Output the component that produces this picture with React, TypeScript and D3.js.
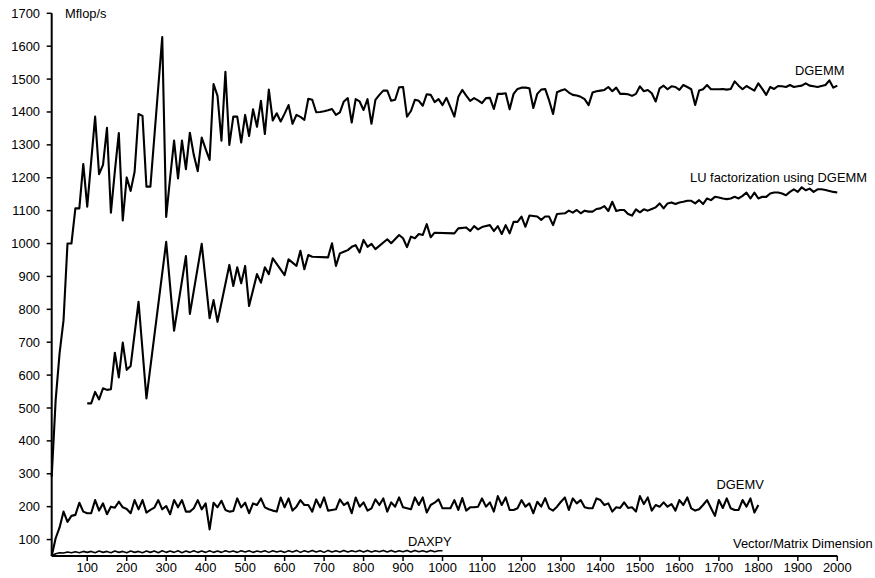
import * as d3 from "d3";

const WIDTH = 875;
const HEIGHT = 578;
const MARGIN = { top: 13.3, right: 37.7, bottom: 22, left: 51.7 };

const X_TICKS = [100, 200, 300, 400, 500, 600, 700, 800, 900, 1000, 1100, 1200, 1300, 1400, 1500, 1600, 1700, 1800, 1900, 2000];
const Y_TICKS = [100, 200, 300, 400, 500, 600, 700, 800, 900, 1000, 1100, 1200, 1300, 1400, 1500, 1600, 1700];

// [dimension, Mflop/s]
const dgemm: [number, number][] = [
  [10, 291], [20, 524], [30, 667], [40, 767], [50, 1000], [60, 1000], [70, 1107], [80, 1107], [90, 1242], [100, 1112],
  [110, 1250], [120, 1386], [130, 1211], [140, 1239], [150, 1352], [160, 1094], [170, 1220], [180, 1336], [190, 1070], [200, 1201],
  [210, 1160], [220, 1218], [230, 1394], [240, 1388], [250, 1173], [260, 1173], [290, 1628], [300, 1081], [310, 1200], [320, 1313],
  [330, 1198], [340, 1313], [350, 1226], [360, 1337], [370, 1269], [380, 1220], [390, 1322], [400, 1287], [410, 1254], [420, 1485],
  [430, 1449], [440, 1313], [450, 1522], [460, 1300], [470, 1386], [480, 1386], [490, 1307], [500, 1391], [510, 1327], [520, 1408],
  [530, 1355], [540, 1434], [550, 1333], [560, 1468], [570, 1374], [580, 1396], [590, 1371], [600, 1395], [610, 1421], [620, 1364],
  [630, 1391], [640, 1385], [650, 1376], [660, 1440], [670, 1437], [680, 1399], [690, 1400], [700, 1402], [710, 1405], [720, 1409],
  [730, 1391], [740, 1399], [750, 1432], [760, 1442], [770, 1368], [780, 1439], [790, 1432], [800, 1406], [810, 1439], [820, 1364],
  [830, 1437], [840, 1452], [850, 1465], [860, 1465], [870, 1434], [880, 1437], [890, 1475], [900, 1476], [910, 1386], [920, 1403],
  [930, 1437], [940, 1434], [950, 1419], [960, 1454], [970, 1452], [980, 1430], [990, 1439], [1000, 1421], [1010, 1443], [1020, 1415],
  [1030, 1386], [1040, 1446], [1050, 1467], [1060, 1450], [1070, 1434], [1080, 1442], [1090, 1435], [1100, 1427], [1110, 1442], [1120, 1443],
  [1130, 1409], [1140, 1455], [1150, 1455], [1160, 1457], [1170, 1408], [1180, 1455], [1190, 1470], [1200, 1474], [1210, 1474], [1220, 1472],
  [1230, 1412], [1240, 1455], [1250, 1468], [1260, 1470], [1270, 1435], [1280, 1394], [1290, 1460], [1300, 1465], [1310, 1469], [1320, 1459],
  [1330, 1452], [1340, 1450], [1350, 1446], [1360, 1439], [1370, 1421], [1380, 1459], [1390, 1463], [1400, 1465], [1410, 1467], [1420, 1476],
  [1430, 1463], [1440, 1474], [1450, 1455], [1460, 1455], [1470, 1454], [1480, 1449], [1490, 1455], [1500, 1478], [1510, 1463], [1520, 1467],
  [1530, 1457], [1540, 1432], [1550, 1472], [1560, 1480], [1570, 1469], [1580, 1478], [1590, 1476], [1600, 1467], [1610, 1482], [1620, 1476],
  [1630, 1469], [1640, 1421], [1650, 1465], [1660, 1469], [1670, 1482], [1680, 1469], [1690, 1469], [1700, 1469], [1710, 1470], [1720, 1468],
  [1730, 1470], [1740, 1493], [1750, 1480], [1760, 1469], [1770, 1479], [1780, 1472], [1790, 1465], [1800, 1487], [1810, 1470], [1820, 1452],
  [1830, 1476], [1840, 1470], [1850, 1479], [1860, 1478], [1870, 1476], [1880, 1482], [1890, 1476], [1900, 1478], [1910, 1480], [1920, 1487],
  [1930, 1480], [1940, 1478], [1950, 1476], [1960, 1479], [1970, 1482], [1980, 1496], [1990, 1474], [2000, 1480],
];

const lu: [number, number][] = [
  [100, 514], [110, 514], [120, 549], [130, 526], [140, 560], [150, 555], [160, 557], [170, 668], [180, 593], [190, 699],
  [200, 616], [210, 628], [230, 823], [250, 529], [300, 1005], [320, 735], [350, 962], [360, 786], [390, 999], [410, 773],
  [420, 828], [430, 762], [460, 935], [470, 871], [480, 928], [490, 879], [500, 932], [510, 810], [530, 907], [540, 881],
  [550, 928], [560, 907], [570, 955], [600, 904], [610, 952], [630, 932], [640, 978], [650, 922], [660, 965], [670, 960],
  [710, 958], [720, 1001], [730, 932], [740, 970], [750, 975], [760, 980], [770, 990], [780, 995], [790, 973], [800, 1011],
  [810, 990], [820, 999], [830, 983], [860, 1013], [870, 1001], [890, 1026], [900, 1016], [910, 989], [920, 1021], [930, 1016],
  [940, 1029], [950, 1026], [960, 1059], [970, 1019], [980, 1033], [1030, 1031], [1040, 1046], [1060, 1049], [1070, 1038], [1080, 1053],
  [1090, 1043], [1100, 1050], [1110, 1053], [1120, 1056], [1130, 1038], [1140, 1053], [1150, 1029], [1160, 1056], [1170, 1031], [1180, 1066],
  [1190, 1066], [1200, 1082], [1210, 1051], [1220, 1085], [1240, 1082], [1250, 1072], [1260, 1082], [1270, 1082], [1280, 1056], [1290, 1090],
  [1310, 1092], [1320, 1100], [1330, 1094], [1340, 1102], [1350, 1092], [1360, 1100], [1370, 1097], [1380, 1097], [1390, 1105], [1400, 1107],
  [1410, 1114], [1420, 1099], [1430, 1127], [1440, 1099], [1450, 1102], [1460, 1102], [1470, 1090], [1480, 1085], [1490, 1104], [1500, 1095],
  [1510, 1104], [1520, 1100], [1530, 1105], [1540, 1110], [1550, 1122], [1560, 1107], [1570, 1122], [1580, 1125], [1590, 1120], [1600, 1125],
  [1610, 1127], [1620, 1130], [1630, 1130], [1640, 1122], [1650, 1132], [1660, 1120], [1670, 1137], [1680, 1132], [1690, 1142], [1700, 1140],
  [1710, 1137], [1720, 1135], [1730, 1137], [1740, 1142], [1750, 1137], [1760, 1145], [1770, 1155], [1780, 1137], [1790, 1155], [1800, 1137],
  [1810, 1142], [1820, 1142], [1830, 1152], [1840, 1155], [1850, 1155], [1860, 1152], [1870, 1147], [1880, 1157], [1890, 1165], [1900, 1157],
  [1910, 1171], [1920, 1162], [1930, 1167], [1940, 1157], [1950, 1165], [1960, 1165], [1970, 1163], [1980, 1160], [1990, 1157], [2000, 1155],
];

const dgemv: [number, number][] = [
  [10, 50], [20, 104], [30, 137], [40, 185], [50, 154], [60, 172], [70, 175], [80, 212], [90, 185], [100, 180],
  [110, 180], [120, 220], [130, 188], [140, 210], [150, 177], [160, 200], [170, 197], [180, 215], [190, 198], [200, 193],
  [210, 180], [220, 220], [230, 192], [240, 220], [250, 182], [260, 190], [270, 197], [280, 220], [290, 192], [300, 202],
  [310, 177], [320, 220], [330, 198], [340, 220], [350, 185], [360, 185], [370, 195], [380, 220], [390, 192], [400, 210],
  [410, 131], [420, 212], [430, 198], [440, 218], [450, 190], [460, 185], [470, 187], [480, 225], [490, 198], [500, 212],
  [510, 180], [520, 210], [530, 205], [540, 225], [550, 198], [560, 192], [570, 188], [580, 185], [590, 228], [600, 198],
  [610, 225], [620, 188], [630, 200], [640, 220], [650, 205], [660, 205], [670, 185], [680, 222], [690, 198], [700, 228],
  [710, 188], [720, 190], [730, 192], [740, 222], [750, 205], [760, 213], [770, 180], [780, 228], [790, 200], [800, 213],
  [810, 188], [820, 195], [830, 222], [840, 205], [850, 225], [860, 185], [870, 213], [880, 200], [890, 228], [900, 198],
  [910, 195], [920, 192], [930, 228], [940, 205], [950, 228], [960, 182], [970, 205], [980, 212], [990, 222], [1000, 195],
  [1010, 195], [1020, 195], [1030, 220], [1040, 190], [1050, 226], [1060, 188], [1070, 198], [1080, 198], [1090, 200], [1100, 225],
  [1110, 200], [1120, 213], [1130, 185], [1140, 232], [1150, 205], [1160, 228], [1170, 190], [1180, 190], [1190, 195], [1200, 220],
  [1210, 200], [1220, 210], [1230, 180], [1240, 215], [1250, 200], [1260, 226], [1270, 195], [1280, 188], [1290, 200], [1300, 215],
  [1310, 228], [1320, 190], [1330, 225], [1340, 210], [1350, 220], [1360, 198], [1370, 195], [1380, 195], [1390, 225], [1400, 220],
  [1410, 205], [1420, 210], [1430, 185], [1440, 198], [1450, 196], [1460, 213], [1470, 196], [1480, 198], [1490, 185], [1500, 232],
  [1510, 208], [1520, 228], [1530, 188], [1540, 205], [1550, 200], [1560, 213], [1570, 200], [1580, 208], [1590, 188], [1600, 220],
  [1610, 205], [1620, 228], [1630, 195], [1640, 188], [1650, 192], [1660, 205], [1670, 220], [1680, 196], [1690, 172], [1700, 220],
  [1710, 196], [1720, 225], [1730, 195], [1740, 190], [1750, 190], [1760, 220], [1770, 200], [1780, 225], [1790, 182], [1800, 205],
];

const daxpy: [number, number][] = [
  [10, 50], [20, 57], [30, 60], [40, 59], [50, 62], [60, 60], [70, 63], [80, 60], [90, 64], [100, 61],
  [110, 64], [120, 60], [130, 65], [140, 61], [150, 64], [160, 60], [170, 65], [180, 61], [190, 64], [200, 60],
  [210, 65], [220, 61], [230, 64], [240, 60], [250, 65], [260, 61], [270, 65], [280, 60], [290, 66], [300, 61],
  [310, 65], [320, 61], [330, 66], [340, 60], [350, 65], [360, 61], [370, 66], [380, 61], [390, 65], [400, 61],
  [410, 66], [420, 61], [430, 65], [440, 61], [450, 66], [460, 62], [470, 65], [480, 61], [490, 66], [500, 62],
  [510, 66], [520, 61], [530, 65], [540, 62], [550, 66], [560, 61], [570, 66], [580, 62], [590, 65], [600, 61],
  [610, 66], [620, 62], [630, 67], [640, 61], [650, 66], [660, 62], [670, 67], [680, 62], [690, 66], [700, 61],
  [710, 67], [720, 62], [730, 66], [740, 62], [750, 67], [760, 62], [770, 66], [780, 63], [790, 67], [800, 62],
  [810, 67], [820, 62], [830, 66], [840, 63], [850, 67], [860, 62], [870, 67], [880, 62], [890, 66], [900, 63],
  [910, 67], [920, 62], [930, 67], [940, 63], [950, 66], [960, 62], [970, 67], [980, 63], [990, 66], [1000, 66],
];

const FONT = "'Liberation Sans', Arial, sans-serif";
const FS = 12.9;

export default function App() {
  const x = d3.scaleLinear().domain([10, 2000]).range([MARGIN.left, WIDTH - MARGIN.right]);
  const y = d3.scaleLinear().domain([50, 1700]).range([HEIGHT - MARGIN.bottom, MARGIN.top]);

  const line = d3
    .line<[number, number]>()
    .x((d) => x(d[0]))
    .y((d) => y(d[1]));

  const x0 = x.range()[0];
  const x1 = x.range()[1];
  const yBase = y.range()[0];
  const yTop = y.range()[1];

  return (
    <svg
      width={WIDTH}
      height={HEIGHT}
      style={{ position: "absolute", left: 0, top: 0, background: "#fff" }}
      fontFamily={FONT}
      fontSize={FS}
    >
      {/* series */}
      <g fill="none" stroke="#000" strokeLinejoin="round">
        <path d={line(dgemm) ?? ""} strokeWidth={2.1} />
        <path d={line(lu) ?? ""} strokeWidth={2.1} />
        <path d={line(dgemv) ?? ""} strokeWidth={2.1} />
        <path d={line(daxpy) ?? ""} strokeWidth={1.6} />
      </g>

      {/* Y axis */}
      <line x1={x0} x2={x0} y1={yTop} y2={yBase} stroke="#000" strokeWidth={2} />
      {Y_TICKS.map((t) => (
        <g key={t}>
          <line x1={x0 - 5} x2={x0} y1={y(t)} y2={y(t)} stroke="#000" strokeWidth={1.5} />
          <text x={40} y={y(t)} dy="0.35em" textAnchor="end">
            {t}
          </text>
        </g>
      ))}

      {/* X axis */}
      <line x1={x0} x2={x1} y1={yBase} y2={yBase} stroke="#000" strokeWidth={2} />
      {X_TICKS.map((t) => (
        <g key={t}>
          <line x1={x(t)} x2={x(t)} y1={yBase} y2={yBase + 5} stroke="#000" strokeWidth={1.5} />
          <text x={x(t)} y={571.8} textAnchor="middle">
            {t}
          </text>
        </g>
      ))}

      {/* labels */}
      <text x={65} y={18}>Mflop/s</text>
      <text x={733} y={548.3}>Vector/Matrix Dimension</text>
      <text x={795} y={75}>DGEMM</text>
      <text x={690} y={182}>LU factorization using DGEMM</text>
      <text x={716.5} y={489}>DGEMV</text>
      <text x={408} y={546}>DAXPY</text>
    </svg>
  );
}
